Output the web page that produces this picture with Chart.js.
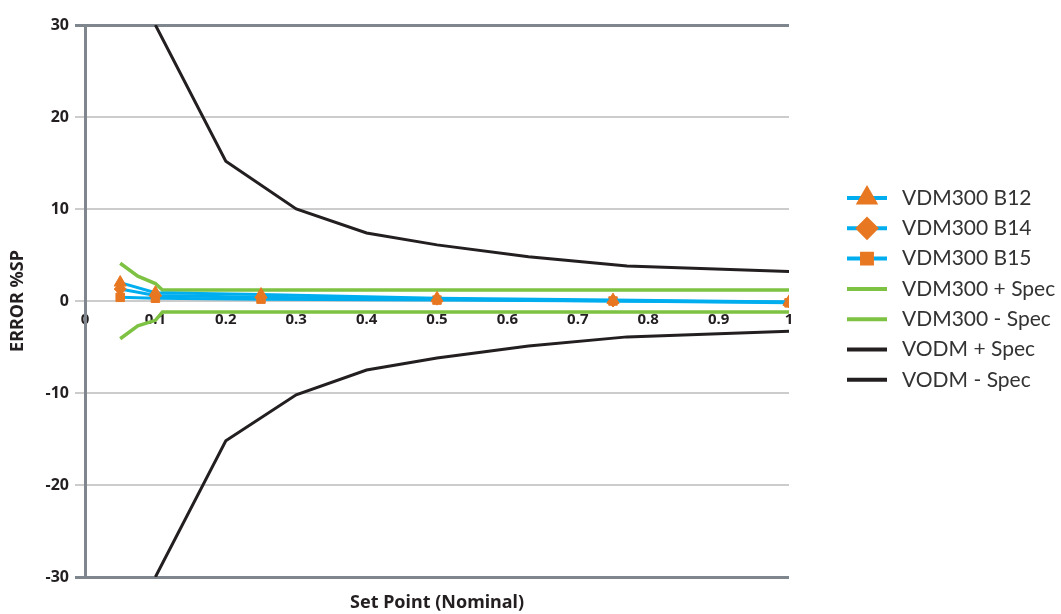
<!DOCTYPE html>
<html>
<head>
<meta charset="utf-8">
<script src="https://cdn.jsdelivr.net/npm/chart.js@4.4.1/dist/chart.umd.min.js"></script>
<style>
  html, body { margin: 0; padding: 0; background: #fff; }
  #wrap { width: 1061px; height: 614px; }
</style>
</head>
<body>
<div id="wrap"><canvas id="chart"></canvas></div>
<script>
// set points measured
const setPoints = [0.05, 0.1, 0.25, 0.5, 0.75, 1];
const b12 = [2.0, 0.9, 0.7, 0.3, 0.1, -0.1];
const b14 = [1.3, 0.6, 0.4, 0.2, 0.0, -0.1];
const b15 = [0.4, 0.3, 0.2, 0.1, 0.0, -0.2];

// VDM300 spec band
const vdmSpecX = [0.05, 0.075, 0.1, 0.11, 1];
const vdmPlus = [4.1, 2.7, 1.9, 1.2, 1.2];
const vdmMinus = [-4.1, -2.7, -2.1, -1.2, -1.2];

// VODM spec band
const vodmSpecX = [0.1, 0.2, 0.3, 0.4, 0.5, 0.63, 0.77, 1];
const vodmPlus = [30, 15.2, 10, 7.4, 6.1, 4.8, 3.8, 3.2];
const vodmMinus = [-30, -15.2, -10.2, -7.5, -6.2, -4.9, -3.9, -3.3];

const yTicks = [-30, -20, -10, 0, 10, 20, 30];

const BLUE = "#00aeef";
const ORANGE = "#e87722";
const GREEN = "#7dc242";
const BLACK = "#231f20";
const BOLD_FONT = "'Noto Sans', 'DejaVu Sans', sans-serif";

const toPoints = (xs, ys) => xs.map((x, i) => ({ x: x, y: ys[i] }));

const markerSeries = (label, ys, style, radius) => ({
    label: label,
    data: toPoints(setPoints, ys),
    borderColor: BLUE,
    borderWidth: 3,
    pointStyle: style,
    pointRadius: radius,
    pointBackgroundColor: ORANGE,
    pointBorderColor: ORANGE,
    pointBorderWidth: 1,
    order: 1
});

const specSeries = (label, xs, ys, color, width) => ({
    label: label,
    data: toPoints(xs, ys),
    borderColor: color,
    borderWidth: width,
    pointRadius: 0,
    order: 2
});

const datasets = [
    markerSeries("VDM300 B12", b12, "triangle", 7),
    markerSeries("VDM300 B14", b14, "rectRot", 6),
    markerSeries("VDM300 B15", b15, "rect", 6),
    specSeries("VDM300 + Spec", vdmSpecX, vdmPlus, GREEN, 3.5),
    specSeries("VDM300 - Spec", vdmSpecX, vdmMinus, GREEN, 3.5),
    specSeries("VODM + Spec", vodmSpecX, vodmPlus, BLACK, 3),
    specSeries("VODM - Spec", vodmSpecX, vodmMinus, BLACK, 3)
];

// legend drawn by hand so each entry shows line + marker
const sideLegend = {
    id: "sideLegend",
    afterDraw(chart) {
        const ctx = chart.ctx;
        const x0 = 847, x1 = 887, tx = 902;
        let y = 198;
        ctx.save();
        chart.data.datasets.forEach(ds => {
            ctx.strokeStyle = ds.borderColor;
            ctx.lineWidth = 4;
            ctx.beginPath();
            ctx.moveTo(x0, y);
            ctx.lineTo(x1, y);
            ctx.stroke();
            if (ds.pointRadius > 0) {
                ctx.fillStyle = ORANGE;
                ctx.strokeStyle = ORANGE;
                Chart.helpers.drawPoint(ctx, {
                    pointStyle: ds.pointStyle,
                    radius: ds.pointStyle === "rect" ? 7 : 9,
                    rotation: 0,
                    borderWidth: 1
                }, (x0 + x1) / 2, y);
            }
            ctx.fillStyle = "#333333";
            ctx.font = "21px Lato, 'Noto Sans', sans-serif";
            ctx.textAlign = "left";
            ctx.textBaseline = "middle";
            ctx.fillText(ds.label, tx, y);
            y += 30.3;
        });
        ctx.restore();
    }
};

const ctx = document.getElementById("chart").getContext("2d");
new Chart(ctx, {
    type: "line",
    data: { datasets: datasets },
    plugins: [sideLegend],
    options: {
        responsive: true,
        maintainAspectRatio: false,
        animation: false,
        layout: {
            padding: { left: 0, right: 272, top: 25, bottom: 0 }
        },
        plugins: {
            legend: { display: false },
            tooltip: { enabled: false }
        },
        scales: {
            x: {
                type: "linear",
                min: 0,
                max: 1,
                position: "bottom",
                grid: { display: false },
                border: { display: false },
                ticks: { display: false },
                title: {
                    display: true,
                    text: "Set Point (Nominal)",
                    color: BLACK,
                    font: { family: BOLD_FONT, size: 18, weight: "bold" },
                    padding: { top: 0, bottom: 0 }
                },
                afterFit(scale) { scale.height = 37; }
            },
            xTicks: {
                type: "linear",
                min: 0,
                max: 1,
                position: { y: 0 },
                grid: { display: false, drawTicks: false },
                border: { display: false },
                ticks: {
                    stepSize: 0.1,
                    padding: 10,
                    color: BLACK,
                    font: { family: BOLD_FONT, size: 15, weight: "bold" },
                    callback: v => Math.round(v * 10) / 10
                }
            },
            y: {
                min: -30,
                max: 30,
                afterBuildTicks(scale) {
                    scale.ticks = yTicks.map(v => ({ value: v }));
                },
                grid: {
                    color: c => Math.abs(c.tick.value) === 30 ? "#80868d" : "#cccccc",
                    lineWidth: c => Math.abs(c.tick.value) === 30 ? 3 : 2,
                    tickLength: 10
                },
                border: { color: "#80868d", width: 3 },
                ticks: {
                    padding: 6,
                    color: BLACK,
                    font: { family: BOLD_FONT, size: 16, weight: "bold" }
                },
                title: {
                    display: true,
                    text: "ERROR %SP",
                    color: BLACK,
                    font: { family: BOLD_FONT, size: 18, weight: "bold" },
                    padding: { top: 7, bottom: 0 }
                },
                afterFit(scale) { scale.width = 85; }
            }
        }
    }
});
</script>
</body>
</html>
